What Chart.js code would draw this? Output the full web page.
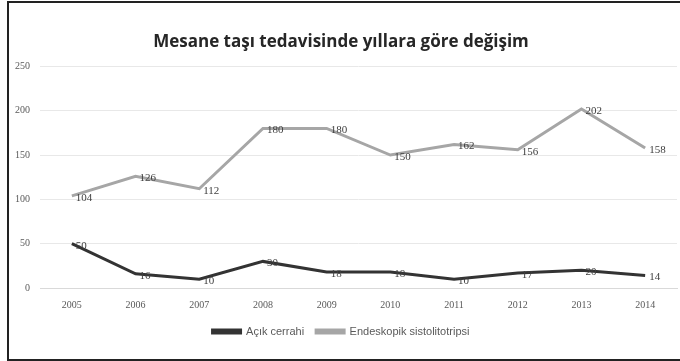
<!DOCTYPE html>
<html>
<head>
<meta charset="utf-8">
<script src="https://cdn.jsdelivr.net/npm/chart.js@4/dist/chart.umd.min.js"></script>
<style>
  html, body { margin: 0; padding: 0; background: #fff; }
  #wrap { position: absolute; left: 0; top: 0; width: 680px; height: 361px; }
  #frame { position: absolute; left: 7px; top: 1px; width: 690px; height: 356px; border: 2px solid #222; pointer-events: none; }
</style>
</head>
<body>
<div id="wrap"><canvas id="chartMesane"></canvas></div>
<div id="frame"></div>
<script>
var years = ['2005', '2006', '2007', '2008', '2009', '2010', '2011', '2012', '2013', '2014'];
var acikCerrahi = [50, 16, 10, 30, 18, 18, 10, 17, 20, 14];
var endeskopik = [104, 126, 112, 180, 180, 150, 162, 156, 202, 158];
var yTicks = [0, 50, 100, 150, 200, 250];

// simple value labels drawn right of each point
var valueLabels = {
    id: 'valueLabels',
    afterDatasetsDraw: function(chart) {
        var ctx = chart.ctx;
        ctx.save();
        ctx.font = '11px "Liberation Serif"';
        ctx.fillStyle = '#404040';
        ctx.textBaseline = 'middle';
        chart.data.datasets.forEach(function(ds, i) {
            var meta = chart.getDatasetMeta(i);
            meta.data.forEach(function(pt, j) {
                ctx.fillText(ds.data[j], pt.x + 4, pt.y + 2);
            });
        });
        ctx.restore();
    }
};

var chartMesane = new Chart(document.getElementById('chartMesane'), {
    type: 'line',
    data: {
        labels: years,
        datasets: [{
            label: 'Açık cerrahi',
            data: acikCerrahi,
            borderColor: '#333333',
            backgroundColor: '#333333',
            borderWidth: 3,
            pointRadius: 0,
            tension: 0,
            fill: false
        }, {
            label: 'Endeskopik sistolitotripsi',
            data: endeskopik,
            borderColor: '#a6a6a6',
            backgroundColor: '#a6a6a6',
            borderWidth: 3,
            pointRadius: 0,
            tension: 0,
            fill: false
        }]
    },
    options: {
        responsive: true,
        maintainAspectRatio: false,
        animation: false,
        layout: { padding: { left: 5, right: 3, top: 28, bottom: 14 } },
        plugins: {
            title: {
                display: true,
                text: 'Mesane taşı tedavisinde yıllara göre değişim',
                color: '#262626',
                font: { family: '"Open Sans"', size: 17, weight: 'bold' },
                padding: { top: 4, bottom: 14 }
            },
            legend: {
                position: 'bottom',
                labels: {
                    boxWidth: 28,
                    boxHeight: 3,
                    color: '#595959',
                    font: { family: '"Liberation Sans"', size: 11 },
                    padding: 12
                }
            },
            tooltip: { enabled: false }
        },
        scales: {
            x: {
                offset: true,
                grid: { display: false },
                border: { color: '#d9d9d9' },
                ticks: { color: '#595959', font: { family: '"Liberation Serif"', size: 10 } }
            },
            y: {
                min: 0,
                max: 250,
                afterBuildTicks: function(scale) {
                    scale.ticks = yTicks.map(function(v) { return { value: v }; });
                },
                grid: { color: '#e8e8e8', drawTicks: false },
                border: { display: false },
                ticks: { color: '#595959', padding: 10, font: { family: '"Liberation Serif"', size: 10 } }
            }
        }
    },
    plugins: [valueLabels]
});
</script>
</body>
</html>
